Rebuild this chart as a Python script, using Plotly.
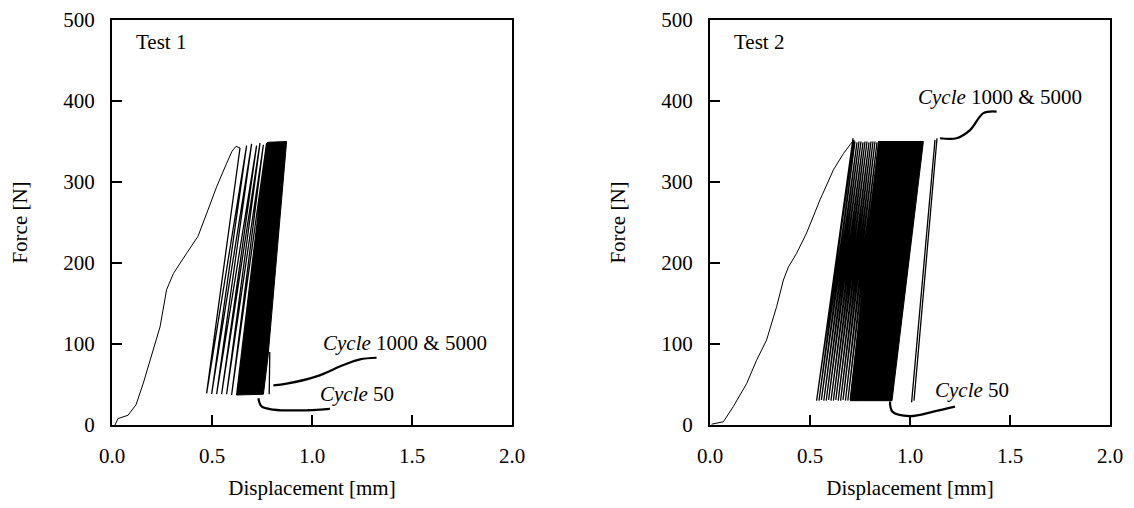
import plotly.graph_objects as go

# ---------------- Test 1 data ----------------
t1_init_x = [0.015, 0.03, 0.08, 0.12, 0.157, 0.207, 0.24, 0.273, 0.307, 0.373, 0.43, 0.473, 0.523, 0.573, 0.6, 0.62, 0.64]
t1_init_y = [0, 8, 12, 25, 52, 93, 121, 167, 187, 212, 233, 261, 294, 323, 338, 344, 342]
t1_bot_x = [0.473, 0.498, 0.523, 0.548, 0.573, 0.598, 0.623]
t1_bot_y = [39, 38, 38, 38, 38, 37, 37]
t1_top_x = [0.673, 0.698, 0.723, 0.74, 0.757, 0.773]
t1_top_y = [345, 347, 345, 348, 346, 348]
t1_dense_x = [0.623, 0.757, 0.78, 0.873, 0.873, 0.78, 0.773]
t1_dense_y = [37, 38, 84, 348, 350, 349, 348]
t1_c1000_x = [0.786, 0.788, 0.789]
t1_c1000_y = [38, 80, 90]
t1_lead1000_x = [0.807, 0.873, 1.023, 1.157, 1.24, 1.323]
t1_lead1000_y = [49, 51, 60, 74, 81, 83]
t1_lead50_x = [0.732, 0.748, 0.807, 0.94, 1.09]
t1_lead50_y = [33, 23, 19, 18, 20]

# ---------------- Test 2 data ----------------
t2_init_x = [0.008, 0.067, 0.117, 0.183, 0.233, 0.283, 0.333, 0.367, 0.392, 0.433, 0.483, 0.55, 0.617, 0.667, 0.7, 0.72]
t2_init_y = [1, 4, 23, 51, 80, 105, 146, 179, 195, 212, 237, 278, 315, 335, 346, 352]
t2_bot_x = [0.533, 0.545, 0.557, 0.569, 0.581, 0.593, 0.605, 0.617, 0.629, 0.641, 0.653, 0.665,
            0.677, 0.689, 0.701, 0.713, 0.725, 0.737]
t2_bot_y = [30, 30, 31, 30, 30, 31, 30, 30, 31, 30, 30, 31, 30, 30, 31, 30, 30, 30]
t2_top_x = [0.715, 0.725, 0.735, 0.745, 0.755, 0.765, 0.775, 0.785, 0.795, 0.805, 0.815, 0.825,
            0.835, 0.845, 0.855, 0.865, 0.875]
t2_top_y = [354, 350, 349, 350, 350, 349, 350, 350, 349, 350, 350, 350, 349, 350, 350, 350, 350]
t2_dense_x = [0.70, 0.91, 1.067, 0.84]
t2_dense_y = [30, 30, 350, 350]
t2_c1000a_x = [1.008, 1.125]
t2_c1000a_y = [28, 352]
t2_c1000b_x = [1.02, 1.135]
t2_c1000b_y = [30, 354]
t2_lead1000_x = [1.15, 1.233, 1.3, 1.367, 1.433]
t2_lead1000_y = [354, 354, 364, 385, 387]
t2_lead50_x = [0.9, 0.912, 1.0, 1.117, 1.225]
t2_lead50_y = [29, 16.5, 11, 16.5, 22.6]

x_ticks = [0.0, 0.5, 1.0, 1.5, 2.0]
y_ticks = [0, 100, 200, 300, 400, 500]

FONT = "Liberation Serif"
FS = 21


def zigzag(start_x, start_y, bx, by, tx, ty):
    xs, ys = [start_x], [start_y]
    for i in range(len(bx)):
        xs.append(bx[i]); ys.append(by[i])
        if i < len(tx):
            xs.append(tx[i]); ys.append(ty[i])
    return xs, ys


fig = go.Figure()


def add_panel(xa, ya, init_x, init_y, bx, by, tx, ty, dx, dy, extra_lines, leaders):
    fig.add_trace(go.Scatter(x=dx, y=dy, fill="toself", fillcolor="black", mode="lines",
                             line=dict(color="black", width=1), xaxis=xa, yaxis=ya, hoverinfo="skip"))
    fig.add_trace(go.Scatter(x=init_x, y=init_y, mode="lines", line=dict(color="black", width=1),
                             xaxis=xa, yaxis=ya))
    zx, zy = zigzag(init_x[-1], init_y[-1], bx, by, tx, ty)
    fig.add_trace(go.Scatter(x=zx, y=zy, mode="lines", line=dict(color="black", width=1.3),
                             xaxis=xa, yaxis=ya))
    for (lx, ly) in extra_lines:
        fig.add_trace(go.Scatter(x=lx, y=ly, mode="lines", line=dict(color="black", width=1.3),
                                 xaxis=xa, yaxis=ya))
    for (lx, ly) in leaders:
        fig.add_trace(go.Scatter(x=lx, y=ly, mode="lines", line=dict(color="black", width=2.2, shape="spline"),
                                 xaxis=xa, yaxis=ya))


add_panel("x", "y", t1_init_x, t1_init_y, t1_bot_x, t1_bot_y, t1_top_x, t1_top_y,
          t1_dense_x, t1_dense_y, [(t1_c1000_x, t1_c1000_y)],
          [(t1_lead1000_x, t1_lead1000_y), (t1_lead50_x, t1_lead50_y)])
add_panel("x2", "y2", t2_init_x, t2_init_y, t2_bot_x, t2_bot_y, t2_top_x, t2_top_y,
          t2_dense_x, t2_dense_y, [(t2_c1000a_x, t2_c1000a_y), (t2_c1000b_x, t2_c1000b_y)],
          [(t2_lead1000_x, t2_lead1000_y), (t2_lead50_x, t2_lead50_y)])

tfont = dict(family=FONT, size=FS, color="black")


def xaxis(domain, anchor):
    return dict(domain=domain, range=[0, 2], tickvals=x_ticks, tickformat=".1f", anchor=anchor,
                ticks="inside", ticklen=10, tickwidth=1.5, tickcolor="black", automargin=False,
                showline=True, linewidth=2, linecolor="black", mirror=True,
                showgrid=False, zeroline=False, tickfont=tfont, ticklabelstandoff=11,
                title=dict(text="Displacement [mm]", font=tfont, standoff=24))


def yaxis(anchor):
    return dict(domain=[0, 1], range=[0, 500], tickvals=y_ticks, anchor=anchor,
                ticks="inside", ticklen=10, tickwidth=1.5, tickcolor="black", automargin=False,
                showline=True, linewidth=2, linecolor="black", mirror=True,
                showgrid=False, zeroline=False, tickfont=tfont, ticklabelstandoff=11,
                title=dict(text="Force [N]", font=tfont, standoff=30))


ann = []
for xr, yr, label, c1000, c50 in [("x", "y", "Test 1", (1.045, 101.6), (1.028, 38)),
                                  ("x2", "y2", "Test 2", (1.03, 405), (1.113, 43))]:
    ann.append(dict(x=0.11, y=473, xref=xr, yref=yr, text=label, showarrow=False,
                    xanchor="left", yanchor="middle", font=tfont))
    ann.append(dict(x=c1000[0], y=c1000[1], xref=xr, yref=yr, text="<i>Cycle</i> 1000 &amp; 5000",
                    showarrow=False, xanchor="left", yanchor="middle", font=tfont))
    ann.append(dict(x=c50[0], y=c50[1], xref=xr, yref=yr, text="<i>Cycle</i> 50",
                    showarrow=False, xanchor="left", yanchor="middle", font=tfont))

fig.update_layout(
    width=1118, height=492,
    margin=dict(l=104, r=16, t=12, b=75, autoexpand=False),
    paper_bgcolor="white", plot_bgcolor="white",
    showlegend=False,
    xaxis=xaxis([0, 0.4008], "y"), yaxis=yaxis("x"),
    xaxis2=xaxis([0.5992, 1.0], "y2"), yaxis2=yaxis("x2"),
    annotations=ann,
)

fig.write_html("out.html")
